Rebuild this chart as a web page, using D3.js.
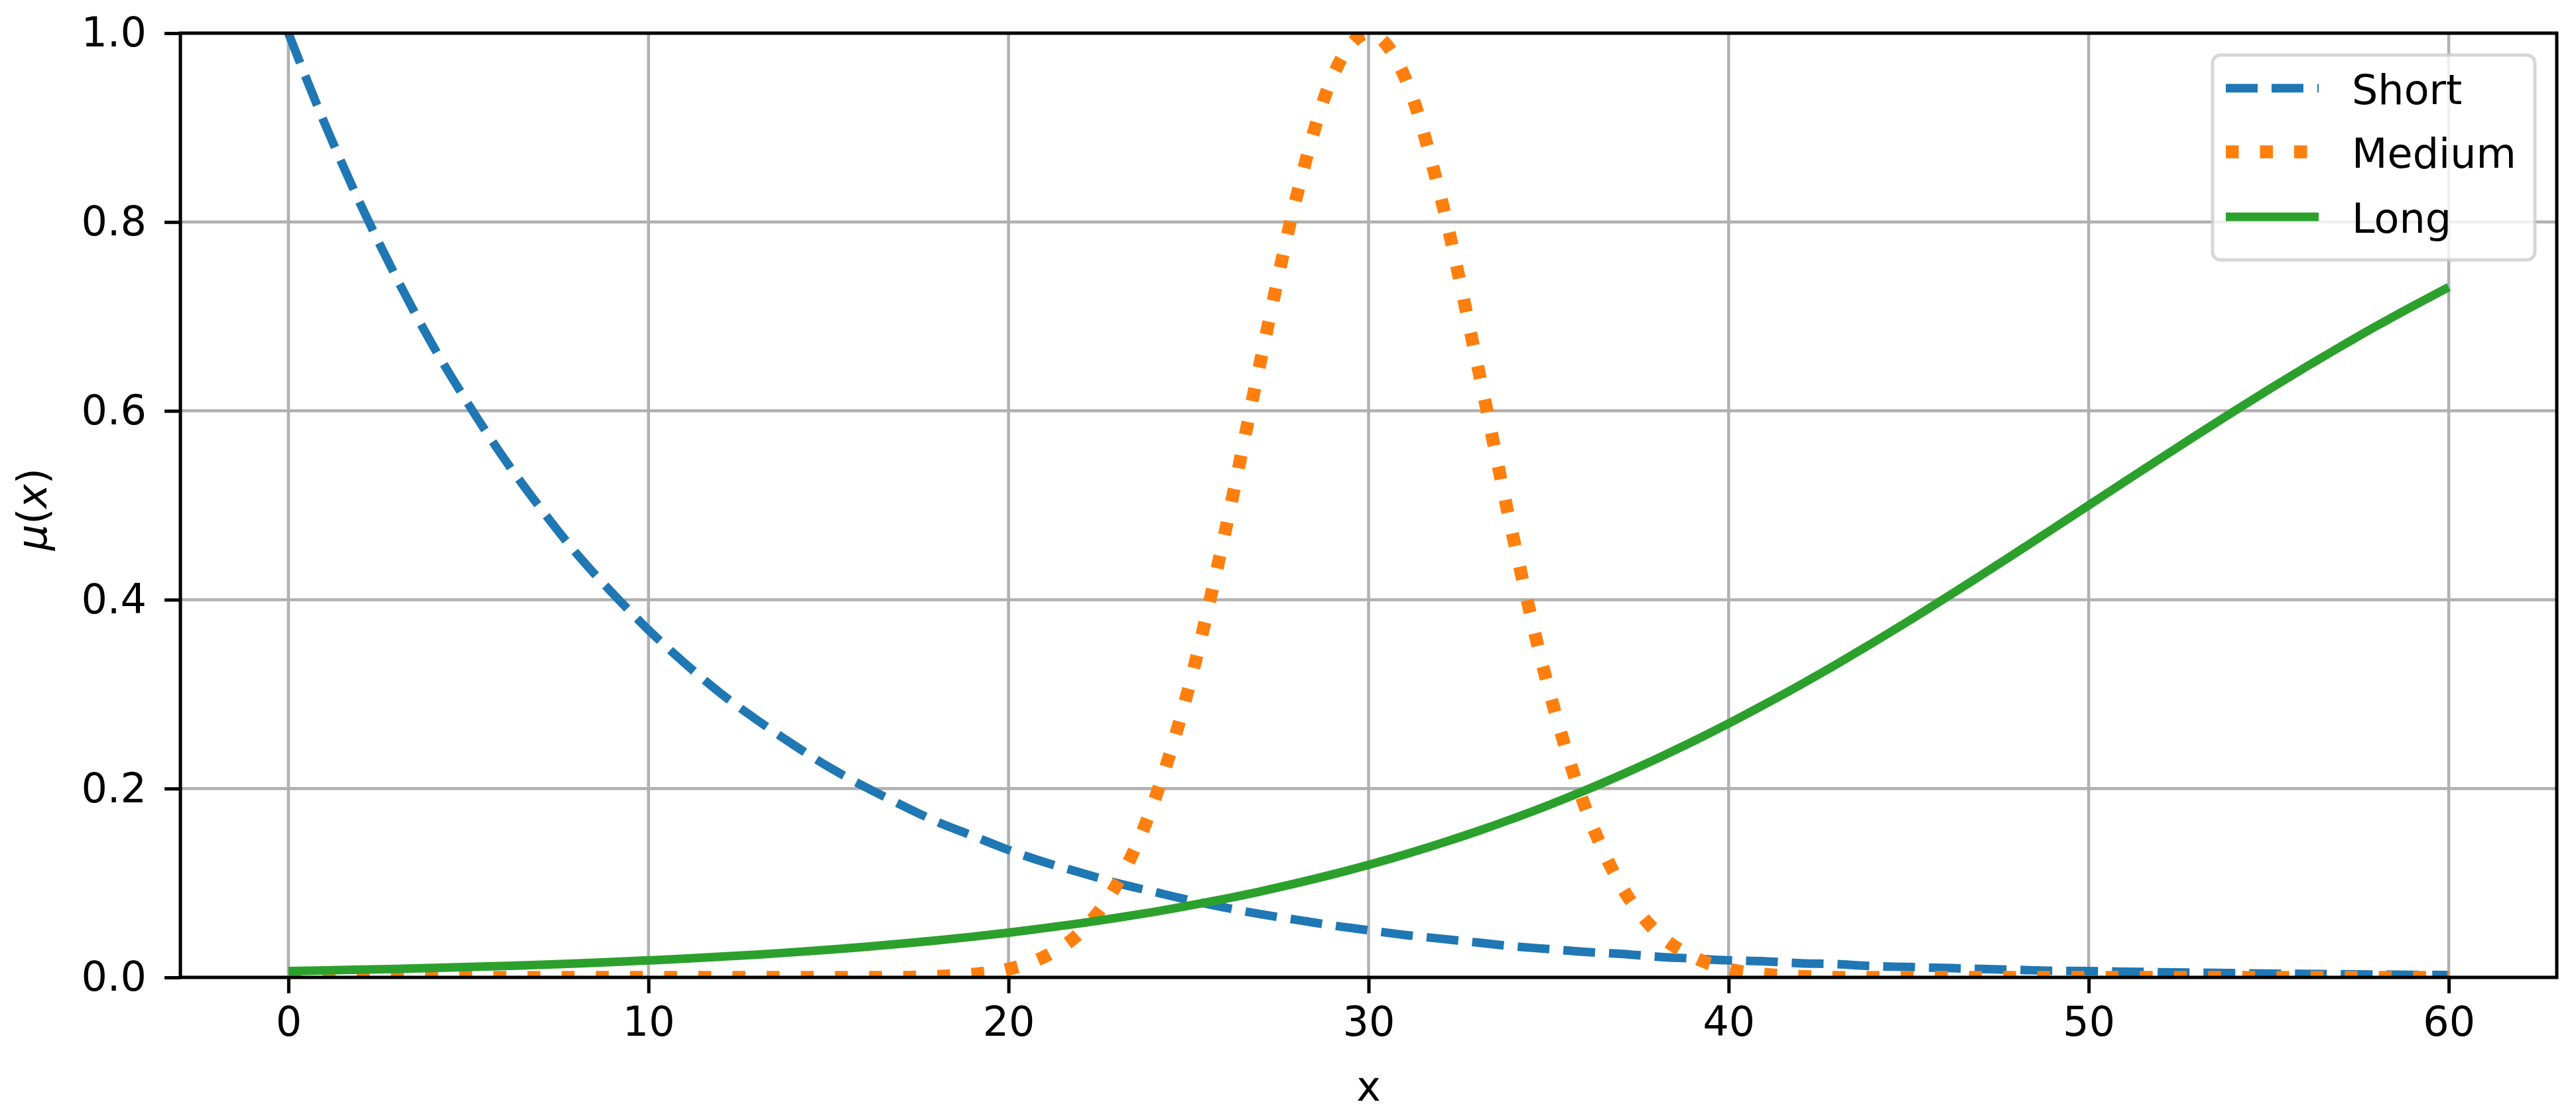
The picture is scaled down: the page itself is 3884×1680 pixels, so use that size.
<!DOCTYPE html>
<html><head><meta charset="utf-8">
<script src="https://cdn.jsdelivr.net/npm/d3@7"></script>
<style>body{margin:0;background:#fff} svg{display:block}</style>
</head><body>
<script>
// ---- data ----
const xValues = [0,1,2,3,4,5,6,7,8,9,10,11,12,13,14,15,16,17,18,19,20,21,22,23,24,25,26,27,28,29,30,
  31,32,33,34,35,36,37,38,39,40,41,42,43,44,45,46,47,48,49,50,51,52,53,54,55,56,57,58,59,60];
const shortValues = [1.000,0.905,0.819,0.741,0.670,0.607,0.549,0.497,0.449,0.407,0.368,0.333,0.301,0.273,0.247,0.223,
  0.202,0.183,0.165,0.150,0.135,0.122,0.111,0.100,0.091,0.082,0.074,0.067,0.061,0.055,0.050,0.045,0.041,0.037,0.033,
  0.030,0.027,0.025,0.022,0.020,0.018,0.017,0.015,0.014,0.012,0.011,0.010,0.009,0.008,0.007,0.0067,0.006,0.0055,0.005,
  0.0045,0.004,0.0037,0.0033,0.003,0.0027,0.0025];
const mediumValues = [0,0,0,0,0,0,0,0,0,0,0,0,0,0,0,0,0,0,0.0011,0.0033,0.0088,0.022,0.048,0.098,0.182,0.306,0.469,
  0.653,0.827,0.954,1.000,0.954,0.827,0.653,0.469,0.306,0.182,0.098,0.048,0.022,0.0088,0.0033,0.0011,0,0,0,0,0,0,0,0,
  0,0,0,0,0,0,0,0,0,0];
const longValues = [0.0067,0.0074,0.0082,0.0090,0.0100,0.0110,0.0121,0.0134,0.0148,0.0163,0.0180,0.0198,0.0219,0.0241,
  0.0266,0.0293,0.0323,0.0356,0.0392,0.0431,0.0474,0.0522,0.0573,0.0630,0.0691,0.0759,0.0832,0.0911,0.0998,0.1091,
  0.1192,0.1301,0.1419,0.1545,0.1680,0.1824,0.1978,0.2142,0.2315,0.2497,0.2689,0.2891,0.3100,0.3318,0.3543,0.3775,
  0.4013,0.4256,0.4502,0.4750,0.5000,0.5250,0.5498,0.5744,0.5987,0.6225,0.6457,0.6682,0.6900,0.7109,0.7311];
const seriesNames = ["Short","Medium","Long"];
const xTicks = [0,10,20,30,40,50,60];
const yTicks = [0.0,0.2,0.4,0.6,0.8,1.0];
const xLabel = "x";

// ---- layout ----
const W = 3884, H = 1680;
const L = 272, R = 3855, T = 50, B = 1474;
const FS = 62;
const x = d3.scaleLinear().domain([-3, 63]).range([L, R]);
const y = d3.scaleLinear().domain([0, 1]).range([B, T]);

const svg = d3.select("body").append("svg").attr("width", W).attr("height", H)
  .style("font-family", "'DejaVu Sans', sans-serif");
svg.append("rect").attr("width", W).attr("height", H).attr("fill", "#fff");
svg.append("defs").append("clipPath").attr("id", "clip")
  .append("rect").attr("x", L).attr("y", T).attr("width", R - L).attr("height", B - T);

// grid
const grid = svg.append("g").attr("stroke", "#b0b0b0").attr("stroke-width", 4.5);
grid.selectAll(".gx").data(xTicks).join("line")
  .attr("x1", d => x(d)).attr("x2", d => x(d)).attr("y1", T).attr("y2", B);
grid.selectAll(".gy").data(yTicks).join("line")
  .attr("x1", L).attr("x2", R).attr("y1", d => y(d)).attr("y2", d => y(d));

// lines
const styles = [
  {name: seriesNames[0], vals: shortValues, color: "#1f77b4", w: 13, dash: "48,21"},
  {name: seriesNames[1], vals: mediumValues, color: "#ff7f0e", w: 19.5, dash: "19.5,32"},
  {name: seriesNames[2], vals: longValues, color: "#2ca02c", w: 13, dash: null}
];
const lineGen = vals => d3.line().x((d, i) => x(xValues[i])).y(d => y(d)).curve(d3.curveMonotoneX)(vals);
const plot = svg.append("g").attr("clip-path", "url(#clip)");
styles.forEach(s => {
  plot.append("path").attr("d", lineGen(s.vals)).attr("fill", "none")
    .attr("stroke", s.color).attr("stroke-width", s.w)
    .attr("stroke-dasharray", s.dash).attr("stroke-linecap", "butt").attr("stroke-linejoin", "round");
});

// axes
const xAxis = d3.axisBottom(x).tickValues(xTicks).tickSize(24).tickPadding(20).tickFormat(d3.format("d"));
const yAxis = d3.axisLeft(y).tickValues(yTicks).tickSize(24).tickPadding(27).tickFormat(d3.format(".1f"));
const gx = svg.append("g").attr("transform", `translate(0,${B})`).call(xAxis);
const gy = svg.append("g").attr("transform", `translate(${L},0)`).call(yAxis);
[gx, gy].forEach(g => {
  g.select(".domain").remove();
  g.selectAll(".tick line").attr("stroke", "#000").attr("stroke-width", 5);
  g.selectAll(".tick text").attr("fill", "#000").style("font-size", FS + "px")
    .style("font-family", "'DejaVu Sans', sans-serif");
});

// spines
svg.append("rect").attr("x", L).attr("y", T).attr("width", R - L).attr("height", B - T)
  .attr("fill", "none").attr("stroke", "#000").attr("stroke-width", 5);

// axis labels
svg.append("text").attr("x", (L + R) / 2).attr("y", 1660).attr("text-anchor", "middle")
  .style("font-size", FS + "px").text(xLabel);
const yl = svg.append("text").attr("transform", "translate(70,768) rotate(-90)")
  .attr("text-anchor", "middle").style("font-size", FS + "px");
yl.append("tspan").style("font-style", "italic").text("μ");
yl.append("tspan").text("(");
yl.append("tspan").style("font-style", "italic").text("x");
yl.append("tspan").text(")");

// legend
const lg = svg.append("g");
lg.append("rect").attr("x", 3336).attr("y", 83).attr("width", 3822 - 3336).attr("height", 392 - 83)
  .attr("rx", 12).attr("fill", "#fff").attr("fill-opacity", 0.8)
  .attr("stroke", "#cccccc").attr("stroke-opacity", 0.8).attr("stroke-width", 5);
const rowY = [133, 229, 327];
styles.forEach((s, i) => {
  lg.append("line").attr("x1", 3356).attr("x2", 3496).attr("y1", rowY[i]).attr("y2", rowY[i])
    .attr("stroke", s.color).attr("stroke-width", s.w).attr("stroke-dasharray", s.dash);
  lg.append("text").attr("x", 3546).attr("y", rowY[i] + 24).style("font-size", FS + "px")
    .attr("fill", "#000").text(s.name);
});
</script>
</body></html>
